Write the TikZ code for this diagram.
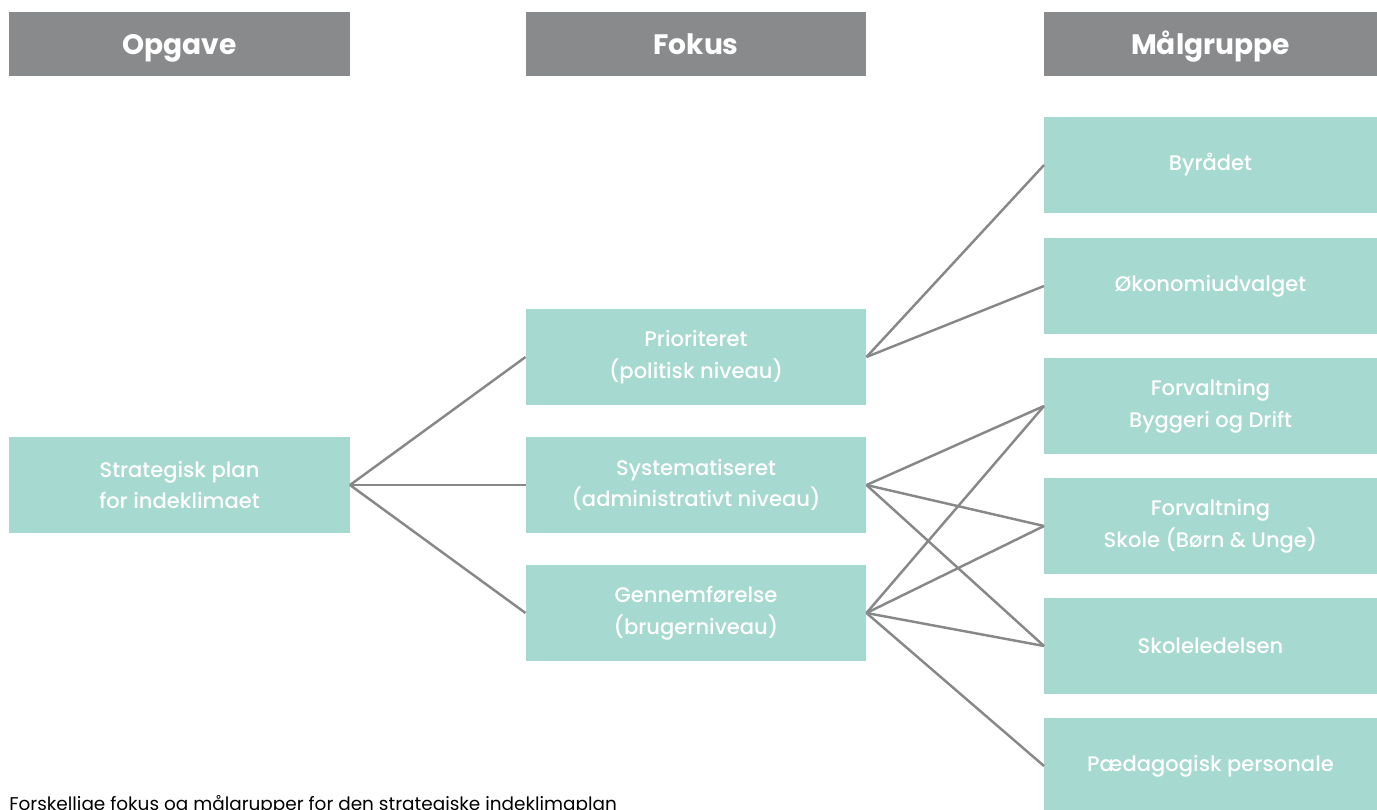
\documentclass[tikz,border=0pt]{standalone}
\usepackage{fontspec}
\setmainfont{Poppins}
\newfontfamily\boxfont{Poppins Medium}
\definecolor{tealbox}{HTML}{A6D9CF}
\definecolor{greyhead}{HTML}{898A8C}
\definecolor{greyline}{HTML}{888888}
\tikzset{
  headbox/.style={fill=greyhead, text=white, minimum height=1.28cm, outer sep=0pt,
    text height=11.5pt, text depth=0pt, font=\fontsize{16}{18}\selectfont\bfseries},
  planbox/.style={fill=tealbox, text=white, minimum height=1.92cm, minimum width=6.82cm,
    outer sep=0pt, align=center, font=\boxfont\fontsize{12}{18}\selectfont},
  groupbox/.style={planbox, minimum width=6.66cm},
  link/.style={draw=greyline, line width=1.4pt}
}
\begin{document}
\begin{tikzpicture}[x=0.02cm, y=-0.02cm]
			%%%%% START %%%%%
			\useasboundingbox (0, 0) rectangle (1377, 809);
			
			\node[headbox, minimum width=6.82cm] (opgave) at (179.5, 44) {Opgave};
			\node[headbox, minimum width=6.82cm] (fokus) at (696, 44) {Fokus};
			\node[headbox, minimum width=6.66cm] (maalgruppe) at (1210.5, 44) {Målgruppe};
			
			\node[planbox] (strategi) at (179.5, 485) {Strategisk plan\\for indeklimaet};
			
			\node[planbox] (prioriteret) at (696, 357) {Prioriteret\\(politisk niveau)};
			\node[planbox] (systematiseret) at (696, 485) {Systematiseret\\(administrativt niveau)};
			\node[planbox] (gennemfoerelse) at (696, 613) {Gennemførelse\\(brugerniveau)};
			
			\node[groupbox] (byraadet) at (1210.5, 165) {Byrådet};
			\node[groupbox] (oekonomi) at (1210.5, 286) {Økonomiudvalget};
			\node[groupbox] (byggeri) at (1210.5, 406) {Forvaltning\\Byggeri og Drift};
			\node[groupbox] (skole) at (1210.5, 526) {Forvaltning\\Skole (Børn \& Unge)};
			\node[groupbox] (ledelse) at (1210.5, 646) {Skoleledelsen};
			\node[groupbox] (personale) at (1210.5, 766) {Pædagogisk personale};
			
			\draw[link] (strategi.east) -- (prioriteret.west);
			\draw[link] (strategi.east) -- (systematiseret.west);
			\draw[link] (strategi.east) -- (gennemfoerelse.west);
			
			\draw[link] (prioriteret.east) -- (byraadet.west);
			\draw[link] (prioriteret.east) -- (oekonomi.west);
			
			\draw[link] (systematiseret.east) -- (byggeri.west);
			\draw[link] (systematiseret.east) -- (skole.west);
			\draw[link] (systematiseret.east) -- (ledelse.west);
			
			\draw[link] (gennemfoerelse.east) -- (byggeri.west);
			\draw[link] (gennemfoerelse.east) -- (skole.west);
			\draw[link] (gennemfoerelse.east) -- (ledelse.west);
			\draw[link] (gennemfoerelse.east) -- (personale.west);
			
			\node[anchor=base west, inner sep=0pt, font=\fontsize{10.5}{12}\selectfont] (caption) at (9, 810)
			  {Forskellige fokus og målgrupper for den strategiske indeklimaplan};
			%%%%% END %%%%%
\end{tikzpicture}
\end{document}
